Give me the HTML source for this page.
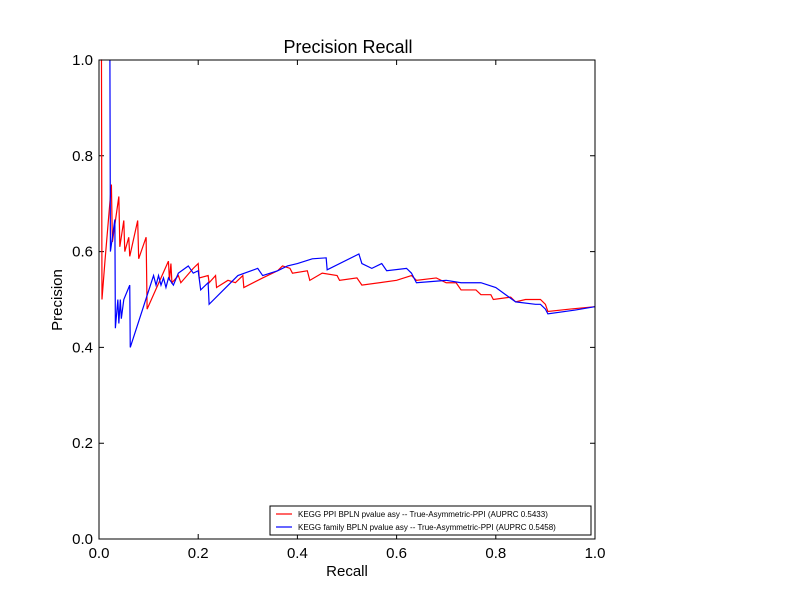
<!DOCTYPE html>
<html><head><meta charset="utf-8"><style>
body{margin:0;background:#fff;}
svg{display:block;font-family:"Liberation Sans","DejaVu Sans",sans-serif;}
</style></head><body>
<svg id="chart" width="800" height="600">
<rect width="800" height="600" fill="#fff"/>
<text x="348" y="53" font-size="18" text-anchor="middle">Precision Recall</text>
<g id="axes"></g>
<g id="series"></g>
<rect x="99" y="60" width="496" height="479" fill="none" stroke="#000" stroke-width="1"/>
<text x="347" y="576" font-size="15" text-anchor="middle">Recall</text>
<text x="62" y="300" font-size="15" text-anchor="middle" transform="rotate(-90 62 300)">Precision</text>
<g>
<rect x="270" y="506" width="321" height="29" fill="#fff" stroke="#000" stroke-width="1"/>
<line x1="276" y1="514" x2="292" y2="514" stroke="red" stroke-width="1.2"/>
<text x="298" y="517" font-size="8">KEGG PPI BPLN pvalue asy -- True-Asymmetric-PPI (AUPRC 0.5433)</text>
<line x1="276" y1="527" x2="292" y2="527" stroke="blue" stroke-width="1.2"/>
<text x="298" y="530" font-size="8">KEGG family BPLN pvalue asy -- True-Asymmetric-PPI (AUPRC 0.5458)</text>
</g>
</svg>
<script>
const xTicks=[0,0.2,0.4,0.6,0.8,1.0];
const yTicks=[0,0.2,0.4,0.6,0.8,1.0];
const redRecall=[0.004,0.005,0.006,0.012,0.025,0.027,0.04,0.042,0.05,0.052,0.06,0.062,0.078,0.08,0.095,0.097,0.14,0.142,0.145,0.147,0.16,0.165,0.19,0.2,0.202,0.22,0.222,0.235,0.237,0.26,0.275,0.29,0.292,0.33,0.36,0.37,0.385,0.39,0.42,0.425,0.45,0.48,0.485,0.52,0.53,0.6,0.63,0.64,0.68,0.7,0.72,0.73,0.76,0.77,0.79,0.795,0.83,0.84,0.86,0.89,0.9,0.905,0.95,1.0];
const redPrecision=[1.0,1.0,0.5,0.58,0.74,0.62,0.715,0.61,0.665,0.6,0.63,0.59,0.665,0.585,0.63,0.48,0.58,0.54,0.575,0.535,0.55,0.535,0.565,0.575,0.545,0.55,0.535,0.55,0.525,0.54,0.535,0.55,0.525,0.545,0.56,0.57,0.565,0.555,0.56,0.54,0.555,0.55,0.54,0.545,0.53,0.54,0.55,0.54,0.545,0.535,0.535,0.52,0.52,0.51,0.51,0.5,0.505,0.495,0.5,0.5,0.49,0.475,0.48,0.485];
const blueRecall=[0.022,0.023,0.032,0.033,0.038,0.04,0.043,0.045,0.05,0.062,0.063,0.11,0.115,0.12,0.125,0.13,0.135,0.14,0.15,0.16,0.18,0.19,0.2,0.205,0.22,0.222,0.28,0.32,0.33,0.36,0.38,0.4,0.43,0.458,0.46,0.524,0.53,0.55,0.57,0.58,0.62,0.63,0.64,0.7,0.73,0.77,0.8,0.82,0.84,0.88,0.89,0.9,0.905,0.96,1.0];
const bluePrecision=[1.0,0.6,0.667,0.44,0.5,0.45,0.5,0.46,0.5,0.53,0.4,0.55,0.53,0.55,0.53,0.545,0.525,0.545,0.53,0.555,0.57,0.555,0.56,0.52,0.535,0.49,0.55,0.565,0.55,0.56,0.57,0.575,0.585,0.587,0.562,0.595,0.575,0.565,0.575,0.56,0.565,0.555,0.535,0.54,0.535,0.535,0.525,0.51,0.495,0.49,0.49,0.48,0.47,0.478,0.485];
const X0=99,X1=595,Y0=539,Y1=60;
const sx=v=>X0+v*(X1-X0);
const sy=v=>Y0-v*(Y0-Y1);
const NS="http://www.w3.org/2000/svg";
const axes=document.getElementById('axes');
xTicks.forEach(t=>{
  const x=sx(t);
  const l=document.createElementNS(NS,'path');
  l.setAttribute('d',`M${x},${Y0}v-5M${x},${Y1}v5`);
  l.setAttribute('stroke','#000');
  
  
  axes.appendChild(l);
  const tx=document.createElementNS(NS,'text');
  tx.setAttribute('x',x);tx.setAttribute('y',Y0+19);
  tx.setAttribute('font-size','15');tx.setAttribute('text-anchor','middle');
  tx.textContent=t.toFixed(1);
  
  
  axes.appendChild(tx);
});
yTicks.forEach(t=>{
  const y=sy(t);
  const l=document.createElementNS(NS,'path');
  l.setAttribute('d',`M${X0},${y}h5M${X1},${y}h-5`);
  l.setAttribute('stroke','#000');
  
  
  axes.appendChild(l);
  const tx=document.createElementNS(NS,'text');
  tx.setAttribute('x',X0-6);tx.setAttribute('y',y+5);
  tx.setAttribute('font-size','15');tx.setAttribute('text-anchor','end');
  tx.textContent=t.toFixed(1);
  
  
  axes.appendChild(tx);
});
const ser=document.getElementById('series');
function drawLine(rs,ps,color,name){
  const p=document.createElementNS(NS,'polyline');
  p.setAttribute('points',rs.map((r,i)=>sx(r)+','+sy(ps[i])).join(' '));
  p.setAttribute('fill','none');p.setAttribute('stroke',color);p.setAttribute('stroke-width','1.2');
  
  
  ser.appendChild(p);
}
drawLine(redRecall,redPrecision,'red','red-pr-curve');
drawLine(blueRecall,bluePrecision,'blue','blue-pr-curve');
</script>
</body></html>
